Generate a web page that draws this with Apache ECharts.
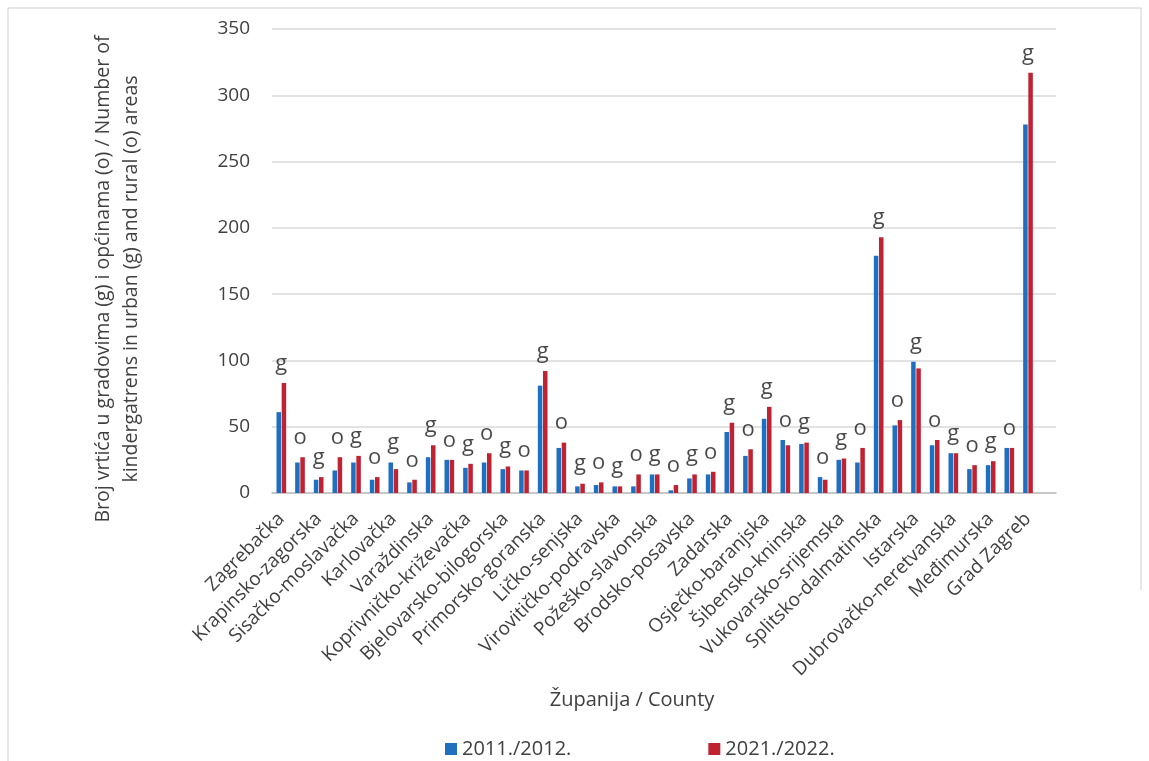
<!DOCTYPE html>
<html>
<head>
<meta charset="utf-8">
<script src="https://cdn.jsdelivr.net/npm/echarts@6/dist/echarts.min.js"></script>
<style>
html,body{margin:0;padding:0;background:#fff;}
#chart{width:1149px;height:761px;}
</style>
</head>
<body>
<div id="chart"></div>
<script>
const counties = ['Zagrebačka','Krapinsko-zagorska','Sisačko-moslavačka','Karlovačka','Varaždinska','Koprivničko-križevačka','Bjelovarsko-bilogorska','Primorsko-goranska','Ličko-senjska','Virovitičko-podravska','Požeško-slavonska','Brodsko-posavska','Zadarska','Osječko-baranjska','Šibensko-kninska','Vukovarsko-srijemska','Splitsko-dalmatinska','Istarska','Dubrovačko-neretvanska','Međimurska','Grad Zagreb'];
const areaTypes = ['g','o'];
const values2011 = [61,23, 10,17, 23,10, 23,8, 27,25, 19,23, 18,17, 81,34, 5,6, 5,5, 14,2, 11,14, 46,28, 56,40, 37,12, 25,23, 179,51, 99,36, 30,18, 21,34, 278,null];
const values2021 = [83,27, 12,27, 28,12, 18,10, 36,25, 22,30, 20,17, 92,38, 7,8, 5,14, 14,6, 14,16, 53,33, 65,36, 38,10, 26,34, 193,55, 94,40, 30,21, 24,34, 317,null];
const seriesNames = ['2011./2012.','2021./2022.'];
const yTicks = {min:0, max:350, interval:50};

const categories = [];
const typeLabels = [];
counties.forEach(c => { areaTypes.forEach((t,i) => { categories.push(i===0 ? c : ''); typeLabels.push(t); }); });
const labelPoints = values2011.map((v,i) => {
  const w = values2021[i];
  if (v == null && w == null) return null;
  return Math.max(v || 0, w || 0);
});

const FONT = '"Open Sans", "Noto Sans", sans-serif';
const chart = echarts.init(document.getElementById('chart'));
chart.setOption({
  animation:false,
  backgroundColor:'#fff',
  textStyle:{fontFamily:FONT},
  graphic:[{
    type:'polyline',
    shape:{points:[[8,761],[8,8],[1141,8],[1141,590]]},
    style:{stroke:'#cfcfcf',lineWidth:1,fill:null},
    silent:true
  }],
  grid:{left:272,right:93,top:29,bottom:268,containLabel:false,outerBoundsMode:'none'},
  legend:{
    data:seriesNames,
    left:440, top:734,
    itemWidth:12, itemHeight:12, itemGap:137,
    icon:'rect',
    textStyle:{fontSize:20,color:'#404040',fontFamily:FONT}
  },
  xAxis:{
    type:'category',
    data:categories,
    name:'Županija / County',
    nameLocation:'middle',
    nameGap:197,
    nameTextStyle:{fontSize:20,color:'#404040',fontFamily:FONT,padding:[0,64,0,0]},
    axisLine:{lineStyle:{color:'#bfbfbf',width:1.5}},
    axisTick:{show:false},
    axisLabel:{interval:0,rotate:45,margin:23,fontSize:19,color:'#404040',fontFamily:FONT}
  },
  yAxis:{
    type:'value',
    min:yTicks.min, max:yTicks.max, interval:yTicks.interval,
    name:'Broj vrtića u gradovima (g) i općinama (o) / Number of\nkindergatrens in urban (g) and rural (o) areas',
    nameLocation:'middle',
    nameGap:127,
    nameTextStyle:{fontSize:19.5,color:'#404040',fontFamily:FONT,lineHeight:28,padding:[0,36,0,0]},
    axisLine:{show:false},
    axisTick:{show:false},
    axisLabel:{fontSize:19,color:'#404040',margin:22,fontFamily:FONT},
    splitLine:{lineStyle:{color:'#d9d9d9',width:1.5}}
  },
  series:[
    {name:seriesNames[0],type:'bar',data:values2011,barWidth:4.5,barGap:'15%',itemStyle:{color:'#1f6fc0'}},
    {name:seriesNames[1],type:'bar',data:values2021,barWidth:4.5,itemStyle:{color:'#bf2230'}},
    {name:'labels',type:'scatter',data:labelPoints,symbolSize:1,itemStyle:{color:'rgba(0,0,0,0)'},
     label:{show:true,position:'top',distance:8,fontSize:22,color:'#1a1a1a',fontFamily:FONT,
       formatter:p => typeLabels[p.dataIndex]},
     silent:true,z:5}
  ]
});
</script>
</body>
</html>
